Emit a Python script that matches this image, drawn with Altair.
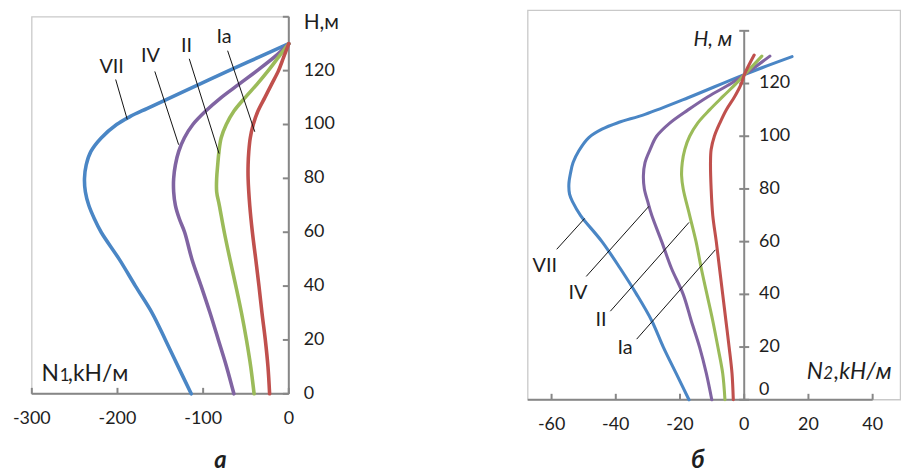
import altair as alt
import pandas as pd

FONT = "Lato"

# ---------------- panel a (N1) ----------------
L_VII_H = [0, 10, 20, 30, 40, 50, 60, 65, 70, 75, 80, 85, 90, 95, 100, 103, 106, 110, 115, 120, 125, 130]
L_VII_N = [-113.9, -129, -144, -159.5, -179, -198, -219, -227, -233.5, -237.5, -238.5, -236.5, -231, -219, -201, -185, -165, -138, -104, -70, -35, 0]
L_IV_H = [0, 10, 20, 30, 40, 50, 60, 65, 70, 75, 80, 85, 90, 95, 100, 105, 110, 115, 120, 125, 130]
L_IV_N = [-64.1, -72.6, -82.2, -91.9, -102.3, -113.1, -121.6, -127.8, -132.4, -134.4, -134.4, -132.4, -128.5, -122, -112, -97, -79, -58, -37, -17, 0]
L_II_H = [0, 10, 20, 30, 40, 50, 60, 70, 75, 80, 85, 90, 95, 100, 105, 110, 115, 120, 125, 130]
L_II_N = [-40.5, -44.4, -49.4, -55.2, -61.8, -68.7, -75.3, -81.1, -84.2, -84.2, -83, -81.5, -79, -73, -64, -51, -37, -24, -12, 0]
L_IA_H = [0, 10, 20, 30, 40, 50, 60, 70, 80, 85, 90, 95, 100, 105, 110, 115, 120, 125, 130]
L_IA_N = [-22.4, -24.3, -27.4, -31.3, -34.8, -38.6, -42.5, -45.6, -47.5, -47.5, -46.7, -45, -41.5, -36, -28, -20, -12, -6, 0]

L_XTICKS = [-300, -200, -100, 0]
L_YTICKS = [0, 20, 40, 60, 80, 100, 120, 140]
L_YLABELS = [0, 20, 40, 60, 80, 100, 120]

L_CURVE_LABELS = ["VII", "IV", "II", "Ia"]
L_LAB_X = [-206.8, -161.4, -119.3, -75.5]
L_LAB_Y = [121.5, 125.6, 129.3, 132.6]
L_LEAD_X1 = [-202.1, -156.4, -116.2, -71.4]
L_LEAD_Y1 = [116.7, 119.7, 124.4, 127.4]
L_LEAD_X2 = [-188.6, -128.6, -81.4, -39.7]
L_LEAD_Y2 = [101.9, 92.5, 89.2, 97.3]

# ---------------- panel б (N2) ----------------
R_VII_H = [0, 10, 20, 30, 40, 50, 60, 70, 75, 78, 82, 86, 90, 94.5, 99.5, 102.7, 105.2, 108.3, 114.6, 123.4, 130.2]
R_VII_N = [-17.2, -21.2, -25.2, -28.8, -33.5, -38.7, -44.3, -51.0, -53.4, -54.4, -54.6, -54.1, -53.3, -51.5, -48.4, -44.3, -39.2, -30.9, -17.5, 0, 14.9]
R_IV_H = [0, 10, 20, 30, 40, 50, 60, 70, 75, 80, 85, 90, 95, 100, 105, 110, 115, 120, 123.3, 130.4]
R_IV_N = [-10.1, -11.8, -13.9, -16.5, -19.0, -22.7, -25.7, -28.8, -30.0, -31.1, -31.4, -30.9, -29.3, -27.3, -23.2, -17.5, -11.3, -4.1, 0, 8.0]
R_II_H = [0, 10, 20, 30, 40, 50, 60, 70, 80, 85, 90, 95, 100, 105, 110, 115, 120, 123.3, 130.4]
R_II_N = [-6.0, -6.7, -8.2, -9.8, -11.6, -13.4, -15.0, -17.0, -19.0, -19.5, -19.3, -18.5, -17.0, -14.5, -10.8, -6.7, -2.5, 0, 5.5]
R_IA_H = [0, 10, 20, 30, 40, 50, 60, 70, 80, 90, 95, 100, 105, 110, 115, 120, 123.3, 130.8]
R_IA_N = [-3.4, -3.8, -4.7, -5.7, -6.7, -7.7, -8.7, -9.8, -10.3, -10.5, -10.3, -9.3, -7.6, -5.6, -3.0, -0.9, 0, 3.1]

R_XTICKS = [-60, -40, -20, 0, 20, 40]
R_YTICKS = [0, 20, 40, 60, 80, 100, 120, 140]
R_YLABELS = [20, 40, 60, 80, 100, 120]

R_CURVE_LABELS = ["VII", "IV", "II", "Ia"]
R_LAB_X = [-62.1, -51.8, -44.6, -37.1]
R_LAB_Y = [50.9, 40.5, 30.2, 19.5]
R_LEAD_X1 = [-58.4, -49.2, -41.7, -33.5]
R_LEAD_Y1 = [57.1, 46.8, 33.6, 23.0]
R_LEAD_X2 = [-49.7, -29.7, -17.2, -9.0]
R_LEAD_Y2 = [68.8, 73.4, 67.3, 56.9]

SERIES = ["Ia", "II", "IV", "VII"]
COLORS = ["#C0504D", "#9BBB59", "#8064A2", "#4A86C5"]

AXIS_GRAY = "#878787"
FRAME_GRAY = "#c9c9c9"
TXT = "#1e1e1e"

# scales (pixel layout of the reference)
xL = alt.Scale(domain=[-300, 714.67], nice=False, zero=False)
yL = alt.Scale(domain=[-2.2105, 142.58], nice=False, zero=False)
xR = alt.Scale(domain=[-221.88, 48.83], nice=False, zero=False)
yR = alt.Scale(domain=[0, 147.97], nice=False, zero=False)
cS = alt.Scale(domain=SERIES, range=COLORS)

TICK_FS = 18


def curves(parts):
    frames = []
    for name, H, N in parts:
        frames.append(pd.DataFrame({"H": H, "N": N, "s": name, "o": list(range(len(H)))}))
    return pd.concat(frames, ignore_index=True)


def panel(xs, ys, cdf, width, xt, yt, yl, yl_extra, xtick_off, ytick_offs,
          frame, axis_lines, cl, lx, ly, ax1, ay1, ax2, ay2, texts, dy_x):
    X = lambda f: alt.X(f, type="quantitative", scale=xs, axis=None)
    Y = lambda f: alt.Y(f, type="quantitative", scale=ys, axis=None)
    X2 = lambda f: alt.X2(f)
    Y2 = lambda f: alt.Y2(f)

    fr = alt.Chart(pd.DataFrame([frame])).mark_rect(
        filled=False, stroke=FRAME_GRAY, strokeWidth=1.3
    ).encode(x=X("x1"), x2=X2("x2"), y=Y("y1"), y2=Y2("y2"))

    al = alt.Chart(pd.DataFrame(axis_lines)).mark_rule(
        color=AXIS_GRAY, strokeWidth=2
    ).encode(x=X("x1"), x2=X2("x2"), y=Y("y1"), y2=Y2("y2"))

    xtk = alt.Chart(pd.DataFrame({"v": xt, "z": [0] * len(xt)})).mark_rule(
        color=AXIS_GRAY, strokeWidth=2, y2Offset=xtick_off
    ).encode(x=X("v"), y=Y("z"), y2=Y2("z"))

    ytk = alt.Chart(pd.DataFrame({"v": yt, "z": [0] * len(yt)})).mark_rule(
        color=AXIS_GRAY, strokeWidth=2, xOffset=ytick_offs[0], x2Offset=ytick_offs[1]
    ).encode(y=Y("v"), x=X("z"), x2=X2("z"))

    xlab = alt.Chart(pd.DataFrame({"v": xt, "z": [0] * len(xt), "t": [str(v) for v in xt]})).mark_text(
        font=FONT, fontSize=TICK_FS, color=TXT, align="center", baseline="middle", dy=dy_x
    ).encode(x=X("v"), y=Y("z"), text="t:N")

    ylab = alt.Chart(pd.DataFrame({"v": yl, "z": [0] * len(yl), "t": [str(v) for v in yl]})).mark_text(
        font=FONT, fontSize=TICK_FS, color=TXT, align="left", baseline="middle", dx=15
    ).encode(x=X("z"), y=Y("v"), text="t:N")

    layers = [fr, al, xtk, ytk, xlab, ylab]
    if yl_extra is not None:
        layers.append(alt.Chart(pd.DataFrame({"v": [0], "z": [0], "t": ["0"]})).mark_text(
            font=FONT, fontSize=TICK_FS, color=TXT, align="left", baseline="middle", dx=15, dy=yl_extra
        ).encode(x=X("z"), y=Y("v"), text="t:N"))

    ln = alt.Chart(cdf).mark_line(strokeWidth=width, interpolate="catmull-rom", strokeCap="round").encode(
        x=X("N"), y=Y("H"), order="o:Q",
        color=alt.Color("s:N", scale=cS, legend=None),
    )
    layers.append(ln)

    lead = alt.Chart(pd.DataFrame({"x1": ax1, "y1": ay1, "x2": ax2, "y2": ay2})).mark_rule(
        color="#111111", strokeWidth=1
    ).encode(x=X("x1"), x2=X2("x2"), y=Y("y1"), y2=Y2("y2"))
    lab = alt.Chart(pd.DataFrame({"x": lx, "y": ly, "t": cl})).mark_text(
        font=FONT, fontSize=20, color=TXT, align="center", baseline="middle"
    ).encode(x=X("x"), y=Y("y"), text="t:N")
    layers += [lead, lab]

    for t in texts:
        d = pd.DataFrame({"x": [t["x"]], "y": [t["y"]], "t": [t["t"]]})
        layers.append(alt.Chart(d).mark_text(
            font=FONT, fontSize=t["size"], color=TXT, align=t.get("align", "left"),
            baseline=t.get("baseline", "alphabetic"), fontStyle=t.get("style", "normal"),
            fontWeight=t.get("weight", "normal")
        ).encode(x=X("x"), y=Y("y"), text="t:N"))

    return alt.layer(*layers)


left_df = curves([("VII", L_VII_H, L_VII_N), ("IV", L_IV_H, L_IV_N),
                  ("II", L_II_H, L_II_N), ("Ia", L_IA_H, L_IA_N)])
right_df = curves([("VII", R_VII_H, R_VII_N), ("IV", R_IV_H, R_IV_N),
                   ("II", R_II_H, R_II_N), ("Ia", R_IA_H, R_IA_N)])

left = panel(
    xL, yL, left_df, 3.6, L_XTICKS, L_YTICKS, L_YLABELS, None, -6, (0, -6),
    {"x1": -300, "x2": 0, "y1": 0, "y2": 140},
    [{"x1": -300, "x2": 0, "y1": 0, "y2": 0}, {"x1": 0, "x2": 0, "y1": 0, "y2": 140}],
    L_CURVE_LABELS, L_LAB_X, L_LAB_Y, L_LEAD_X1, L_LEAD_Y1, L_LEAD_X2, L_LEAD_Y2,
    [
        {"x": 17.4, "y": 137.5, "t": "H,м", "size": 21, "baseline": "middle"},
        {"x": -288.7, "y": 4.8, "t": "N", "size": 23},
        {"x": -267.5, "y": 4.8, "t": "1", "size": 17},
        {"x": -258.0, "y": 4.8, "t": ",kH/м", "size": 23},
        {"x": -79.9, "y": -24.8, "t": "а", "size": 24, "align": "center", "baseline": "middle",
         "style": "italic", "weight": "bold"},
    ],
    25,
)

right = panel(
    xR, yR, right_df, 3.1, R_XTICKS, R_YTICKS, R_YLABELS, -10, -6, (-5, 5),
    {"x1": -67.4, "x2": 48.65, "y1": 0, "y2": 147.8},
    [{"x1": -67.4, "x2": 40, "y1": 0, "y2": 0}, {"x1": 0, "x2": 0, "y1": 0, "y2": 140}],
    R_CURVE_LABELS, R_LAB_X, R_LAB_Y, R_LEAD_X1, R_LEAD_Y1, R_LEAD_X2, R_LEAD_Y2,
    [
        {"x": -3.7, "y": 136.4, "t": "H, м", "size": 21, "align": "right", "baseline": "middle",
         "style": "italic"},
        {"x": 19.5, "y": 7.9, "t": "N", "size": 23, "style": "italic"},
        {"x": 24.6, "y": 7.9, "t": "2", "size": 17, "style": "italic"},
        {"x": 28.0, "y": 7.9, "t": ",kH/м", "size": 23, "style": "italic"},
        {"x": -14.5, "y": -23.0, "t": "б", "size": 25, "align": "center", "baseline": "middle",
         "style": "italic", "weight": "bold"},
    ],
    25,
)

chart = alt.layer(left, right).resolve_scale(x="independent", y="independent").properties(
    width=876, height=393,
    autosize=alt.AutoSizeParams(type="none"),
    padding={"left": 24, "top": 0, "right": 0, "bottom": 76},
    background="white",
).configure_view(stroke=None)

chart.save("out.html", embed_options={"renderer": "svg", "actions": False})
